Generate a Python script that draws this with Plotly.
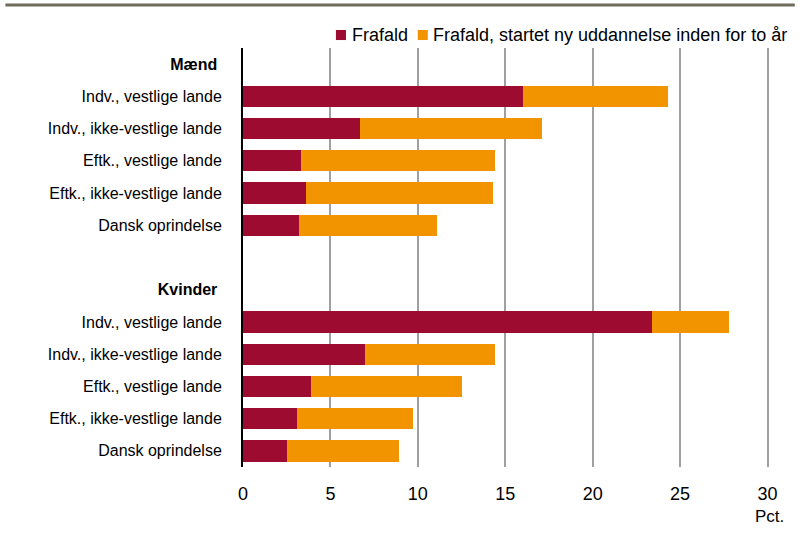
import plotly.graph_objects as go

# Data
groups = ["Mænd", "Kvinder"]
categories = ["Indv., vestlige lande", "Indv., ikke-vestlige lande", "Eftk., vestlige lande",
              "Eftk., ikke-vestlige lande", "Dansk oprindelse"]
frafald_maend = [16.0, 6.7, 3.3, 3.6, 3.2]
total_maend = [24.3, 17.1, 14.4, 14.3, 11.1]
frafald_kvinder = [23.4, 7.0, 3.9, 3.1, 2.5]
total_kvinder = [27.8, 14.4, 12.5, 9.7, 8.9]
series_names = ["Frafald", "Frafald, startet ny uddannelse inden for to år"]
x_ticks = [0, 5, 10, 15, 20, 25, 30]

red = "#9e0b30"
orange = "#f29400"
font = "Liberation Sans, Arial"

# Row layout: header, 5 categories, blank row, header, 5 categories
rows_m = [1, 2, 3, 4, 5]
rows_k = [8, 9, 10, 11, 12]
y_rows = rows_m + rows_k
frafald = frafald_maend + frafald_kvinder
totals = total_maend + total_kvinder
ny_udd = [round(t - f, 2) for t, f in zip(totals, frafald)]

tickvals = [0] + rows_m + [7] + rows_k
ticktext = ["<b>" + groups[0] + "</b> "] + categories + ["<b>" + groups[1] + "</b> "] + categories

fig = go.Figure()
fig.add_trace(go.Bar(y=y_rows, x=frafald, orientation="h", name=series_names[0],
                     marker=dict(color=red, line=dict(width=0)), width=0.66))
fig.add_trace(go.Bar(y=y_rows, x=ny_udd, orientation="h", name=series_names[1],
                     marker=dict(color=orange, line=dict(width=0)), width=0.66))

# hand-made legend (squares + text) placed like the original
legend_shapes = [
    dict(type="rect", xref="paper", yref="paper", x0=0.176, x1=0.195, y0=1.019, y1=1.043,
         fillcolor=red, line=dict(width=0)),
    dict(type="rect", xref="paper", yref="paper", x0=0.331, x1=0.350, y0=1.019, y1=1.043,
         fillcolor=orange, line=dict(width=0)),
]
legend_texts = [
    dict(text=series_names[0], xref="paper", yref="paper", x=0.203, y=1.031,
         xanchor="left", yanchor="middle", showarrow=False, font=dict(size=18)),
    dict(text=series_names[1], xref="paper", yref="paper", x=0.356, y=1.031,
         xanchor="left", yanchor="middle", showarrow=False, font=dict(size=18)),
]

fig.update_layout(
    barmode="stack",
    width=804, height=534,
    margin=dict(l=243, r=33, t=48, b=67),
    plot_bgcolor="white", paper_bgcolor="white",
    font=dict(family=font, size=16, color="#000000"),
    showlegend=False,
    xaxis=dict(range=[0, 30.2], tickvals=x_ticks, showgrid=True, gridcolor="#a0a0a0",
               gridwidth=2, zeroline=False, showline=False, ticks="", ticklabelstandoff=14,
               tickfont=dict(size=18), automargin=False),
    yaxis=dict(range=[12.5, -0.5], tickvals=tickvals, ticktext=ticktext, showgrid=False,
               zeroline=False, showline=True, linecolor="#000000", linewidth=2, ticks="",
               ticklabelstandoff=16, automargin=False),
    shapes=[dict(type="line", xref="paper", yref="paper", x0=-0.45, x1=1.045,
                 y0=1.1025, y1=1.1025, line=dict(color="#6e6b5c", width=3))] + legend_shapes,
    annotations=[dict(text="Pct.", xref="x", yref="paper", x=30.1, y=-0.118, xanchor="center",
                      yanchor="middle", showarrow=False, font=dict(size=17))] + legend_texts,
)

# remove the default 8px body margin so the chart sits at the page corner
fig.write_html("out.html", config={"displayModeBar": False},
               post_script="document.body.style.margin='0';")
